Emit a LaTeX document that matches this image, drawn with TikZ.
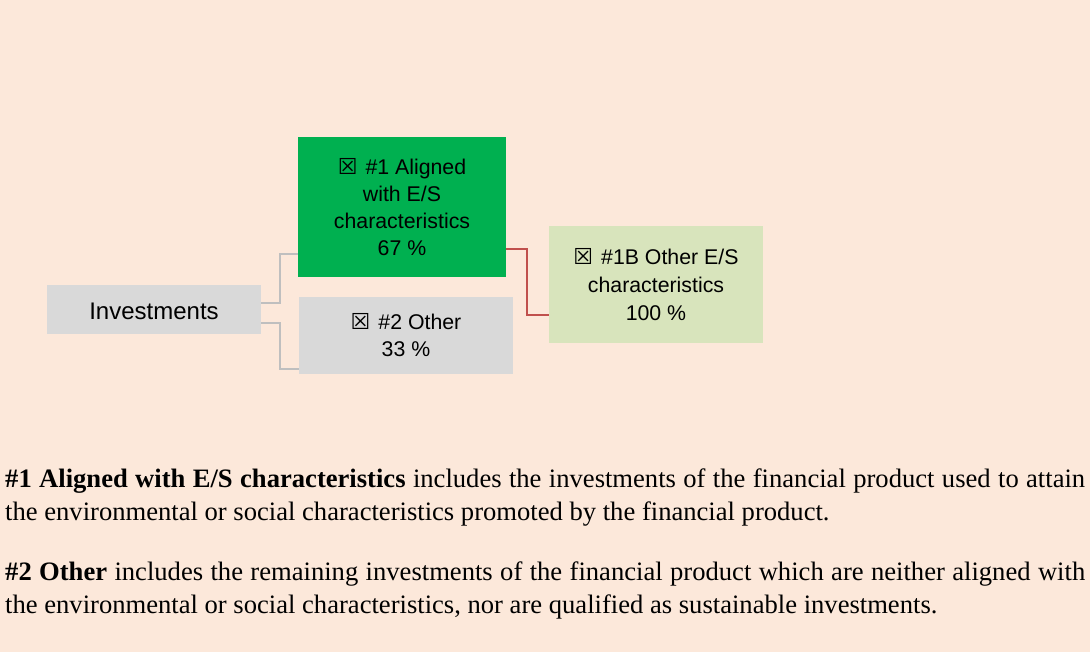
\documentclass[tikz,border=0pt]{standalone}
\usepackage{fontspec}
\setmainfont{Liberation Serif}
\newfontfamily\diagfont{Liberation Sans}
\newfontfamily\symfont{DejaVu Sans}
\usetikzlibrary{calc}
\definecolor{bgpeach}{HTML}{FCE8DA}
\definecolor{boxgray}{HTML}{D9D9D9}
\definecolor{boxgreen}{HTML}{00B050}
\definecolor{boxlight}{HTML}{D8E4BC}
\definecolor{conngray}{HTML}{BFBFBF}
\definecolor{connred}{HTML}{C0504D}
\newcommand{\chk}{{\symfont\fontsize{22}{22}\selectfont ☒}\hspace{8pt}}
\tikzset{
  diag/.style={inner sep=0pt, align=center, font=\diagfont\fontsize{21.3}{27}\selectfont, text=black},
  conn/.style={draw=conngray, line width=2pt},
  redconn/.style={draw=connred, line width=2pt},
  body/.style={inner sep=0pt, anchor=base west, text width=1080pt, align=justify, font=\fontsize{26.6}{33}\selectfont, text=black}
}
\begin{document}
\begin{tikzpicture}[x=1pt,y=-1pt]
\useasboundingbox (0,0) rectangle (1090,652);
\fill[bgpeach] (0,0) rectangle (1090,652);
\node[diag, fill=boxgray, minimum width=214pt, minimum height=49pt, text height=19.6pt, text depth=0pt, font=\diagfont\fontsize{24}{27}\selectfont] (inv) at (154,309.5) {Investments};
\node[diag, fill=boxgreen, minimum width=208pt, minimum height=140pt] (b1) at (402,207) {\chk\#1 Aligned\\with E/S\\characteristics\\67 \%};
\node[diag, fill=boxgray, minimum width=214pt, minimum height=77pt] (b2) at (406,335.5) {\chk\#2 Other\\33 \%};
\node[diag, fill=boxlight, minimum width=214pt, minimum height=117pt, font=\diagfont\fontsize{21.3}{28}\selectfont] (b1b) at (656,284.5) {\chk\#1B Other E/S\\characteristics\\100 \%};
\draw[conn] ([yshift=6pt]inv.east) -- ++(18.5,0) |- ([yshift=-47pt]b1.west);
\draw[conn] ([yshift=-14pt]inv.east) -- ++(18.5,0) |- ([yshift=-33.5pt]b2.west);
\draw[redconn] ([yshift=-42pt]b1.east) -- ++(21,0) |- ([yshift=-31pt]b1b.west);
\node[body] (p1) at (5,487) {\textbf{\#1 Aligned with E/S characteristics} includes the investments of the financial product used to attain\linebreak the environmental or social characteristics promoted by the financial product.};
\node[body] (p2) at (5,580) {\textbf{\#2 Other} includes the remaining investments of the financial product which are neither aligned with\linebreak the environmental or social characteristics, nor are qualified as sustainable investments.};
\end{tikzpicture}
\end{document}
